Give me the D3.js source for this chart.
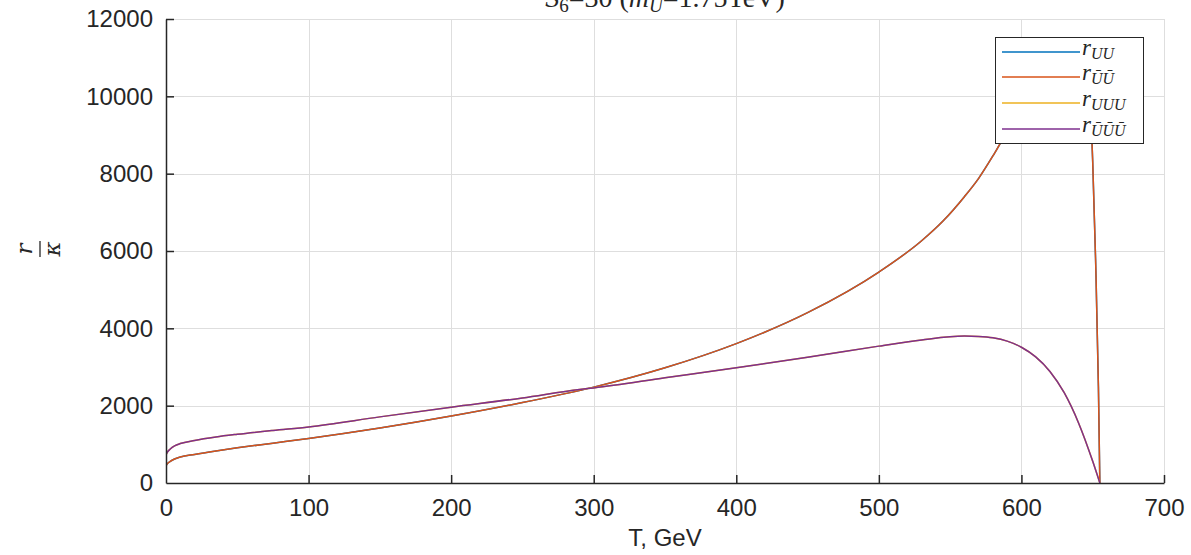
<!DOCTYPE html>
<html>
<head>
<meta charset="utf-8">
<script src="https://cdn.jsdelivr.net/npm/d3@7/dist/d3.min.js"></script>
<style>
  html, body { margin: 0; padding: 0; background: #fff; }
  svg { display: block; }
  .tick text { font-family: "Liberation Sans", Arial, sans-serif; font-size: 24px; fill: #262626; }
</style>
</head>
<body>
<svg id="chart" width="1191" height="555"></svg>
<script>
// Temperature grid (GeV) and ratios r/kappa for each series
const tU = [0, 1, 3, 6, 10, 20, 35, 50, 75, 100, 150, 200, 250, 300, 350, 400, 450, 500, 530, 545, 560, 570, 581, 600, 620, 632, 640, 645, 648, 650, 652, 654, 655];
const rUU = [440, 500, 560, 620, 670, 740, 830, 910, 1030, 1150, 1420, 1730, 2080, 2480, 2980, 3605, 4405, 5455, 6265, 6775, 7405, 7880, 8520, 9750, 10800, 11150, 11250, 10950, 10000, 8300, 5800, 2500, 0];
const rUbUb = rUU.slice();

const tUUU = [0, 1, 3, 6, 10, 20, 35, 50, 75, 100, 150, 200, 250, 290, 300, 350, 400, 450, 500, 530, 560, 570, 580, 590, 600, 610, 620, 630, 640, 650, 655];
const rUUU = [725, 800, 880, 960, 1020, 1100, 1190, 1260, 1360, 1450, 1710, 1960, 2200, 2420, 2460, 2720, 2980, 3250, 3540, 3700, 3800, 3790, 3755, 3670, 3510, 3260, 2885, 2335, 1560, 560, 0];
const rUbUbUb = rUUU.slice();

const xTicks = [0, 100, 200, 300, 400, 500, 600, 700];
const yTicks = [0, 2000, 4000, 6000, 8000, 10000, 12000];

const colors = ["#0072BD", "#D95319", "#EDB120", "#7E2F8E"];
const legendSubs = ["UU", "\u016A\u016A", "UUU", "\u016A\u016A\u016A"];

const svg = d3.select("#chart");
const x = d3.scaleLinear().domain([0, 700]).range([166, 1164]);
const y = d3.scaleLinear().domain([0, 12000]).range([483, 19]);

// grid
const grid = svg.append("g").attr("stroke", "#dedede").attr("stroke-width", 1);
grid.selectAll(".gx").data(xTicks.slice(1)).join("line")
  .attr("x1", d => Math.round(x(d)) + 0.5).attr("x2", d => Math.round(x(d)) + 0.5)
  .attr("y1", y(12000)).attr("y2", y(0));
grid.selectAll(".gy").data(yTicks.slice(1)).join("line")
  .attr("y1", d => Math.round(y(d)) + 0.5).attr("y2", d => Math.round(y(d)) + 0.5)
  .attr("x1", x(0)).attr("x2", x(700));

// clip for curves
svg.append("clipPath").attr("id", "plotclip").append("rect")
  .attr("x", x(0)).attr("y", y(12000)).attr("width", x(700) - x(0)).attr("height", y(0) - y(12000));

const line = d3.line().x(d => x(d[0])).y(d => y(d[1])).curve(d3.curveMonotoneX);
const series = [
  { t: tU, v: rUU },
  { t: tU, v: rUbUb },
  { t: tUUU, v: rUUU },
  { t: tUUU, v: rUbUbUb }
];
const curves = svg.append("g").attr("clip-path", "url(#plotclip)");
series.forEach((s, i) => {
  curves.append("path")
    .attr("d", line(s.t.map((t, k) => [t, s.v[k]])))
    .attr("fill", "none").attr("stroke", colors[i]).attr("stroke-width", 1.5);
});

// axes
const xAxis = d3.axisBottom(x).tickValues(xTicks).tickSize(-8).tickSizeOuter(0).tickPadding(16).tickFormat(d3.format("d"));
const yAxis = d3.axisLeft(y).tickValues(yTicks).tickSize(-8).tickSizeOuter(0).tickPadding(13).tickFormat(d3.format("d"));
const gx = svg.append("g").attr("transform", `translate(0,${y(0)})`).call(xAxis);
const gy = svg.append("g").attr("transform", `translate(${x(0)},0)`).call(yAxis);
[gx, gy].forEach(g => {
  g.selectAll("path.domain").attr("stroke", "#262626").attr("stroke-width", 1.5);
  g.selectAll(".tick line").attr("stroke", "#262626").attr("stroke-width", 1.5);
});
gx.selectAll(".tick").filter(d => d === 0).select("line").remove();
gy.selectAll(".tick").filter(d => d === 0).select("line").remove();

// x label
svg.append("text").attr("x", x(350)).attr("y", 546).attr("text-anchor", "middle")
  .attr("font-family", "Liberation Sans, Arial, sans-serif").attr("font-size", 24).attr("fill", "#262626")
  .text("T, GeV");

// y label: r over kappa, rotated
const yl = svg.append("g").attr("transform", `translate(40,${(y(0) + y(12000)) / 2 - 2}) rotate(-90)`);
yl.append("text").attr("x", 0).attr("y", -8).attr("text-anchor", "middle")
  .attr("font-family", "DejaVu Serif, serif").attr("font-style", "italic").attr("font-size", 23).attr("fill", "#262626").text("r");
yl.append("line").attr("x1", -8).attr("x2", 8).attr("y1", 0).attr("y2", 0).attr("stroke", "#262626").attr("stroke-width", 1.3);
yl.append("text").attr("x", 0).attr("y", 20).attr("text-anchor", "middle")
  .attr("font-family", "DejaVu Serif, serif").attr("font-style", "italic").attr("font-size", 23).attr("fill", "#262626").text("\u03BA");

// title (partly above the page edge)
const title = svg.append("text").attr("x", x(350)).attr("y", 7).attr("text-anchor", "middle")
  .attr("font-family", "Liberation Serif, serif").attr("font-size", 28).attr("fill", "#262626");
title.append("tspan").attr("font-style", "italic").text("S");
title.append("tspan").attr("font-size", 19).attr("dy", 5).text("6");
title.append("tspan").attr("dy", -5).text("=30 (");
title.append("tspan").attr("font-style", "italic").text("m");
title.append("tspan").attr("font-style", "italic").attr("font-size", 19).attr("dy", 5).text("U");
title.append("tspan").attr("dy", -5).text("=1.75TeV)");

// legend
const lg = svg.append("g");
lg.append("rect").attr("x", 995.5).attr("y", 37.5).attr("width", 148).attr("height", 106)
  .attr("fill", "#fff").attr("stroke", "#262626").attr("stroke-width", 1);
const rowsY = [52, 77, 103, 129];
legendSubs.forEach((sub, i) => {
  lg.append("line").attr("x1", 1002).attr("x2", 1080).attr("y1", rowsY[i]).attr("y2", rowsY[i])
    .attr("stroke", colors[i]).attr("stroke-width", 1.5);
  const t = lg.append("text").attr("x", 1082).attr("y", rowsY[i] + 3)
    .attr("font-family", "Liberation Serif, serif").attr("font-style", "italic").attr("fill", "#262626");
  t.append("tspan").attr("font-size", 23).text("r");
  t.append("tspan").attr("font-size", 16).attr("dy", 4).text(sub);
});
</script>
</body>
</html>
